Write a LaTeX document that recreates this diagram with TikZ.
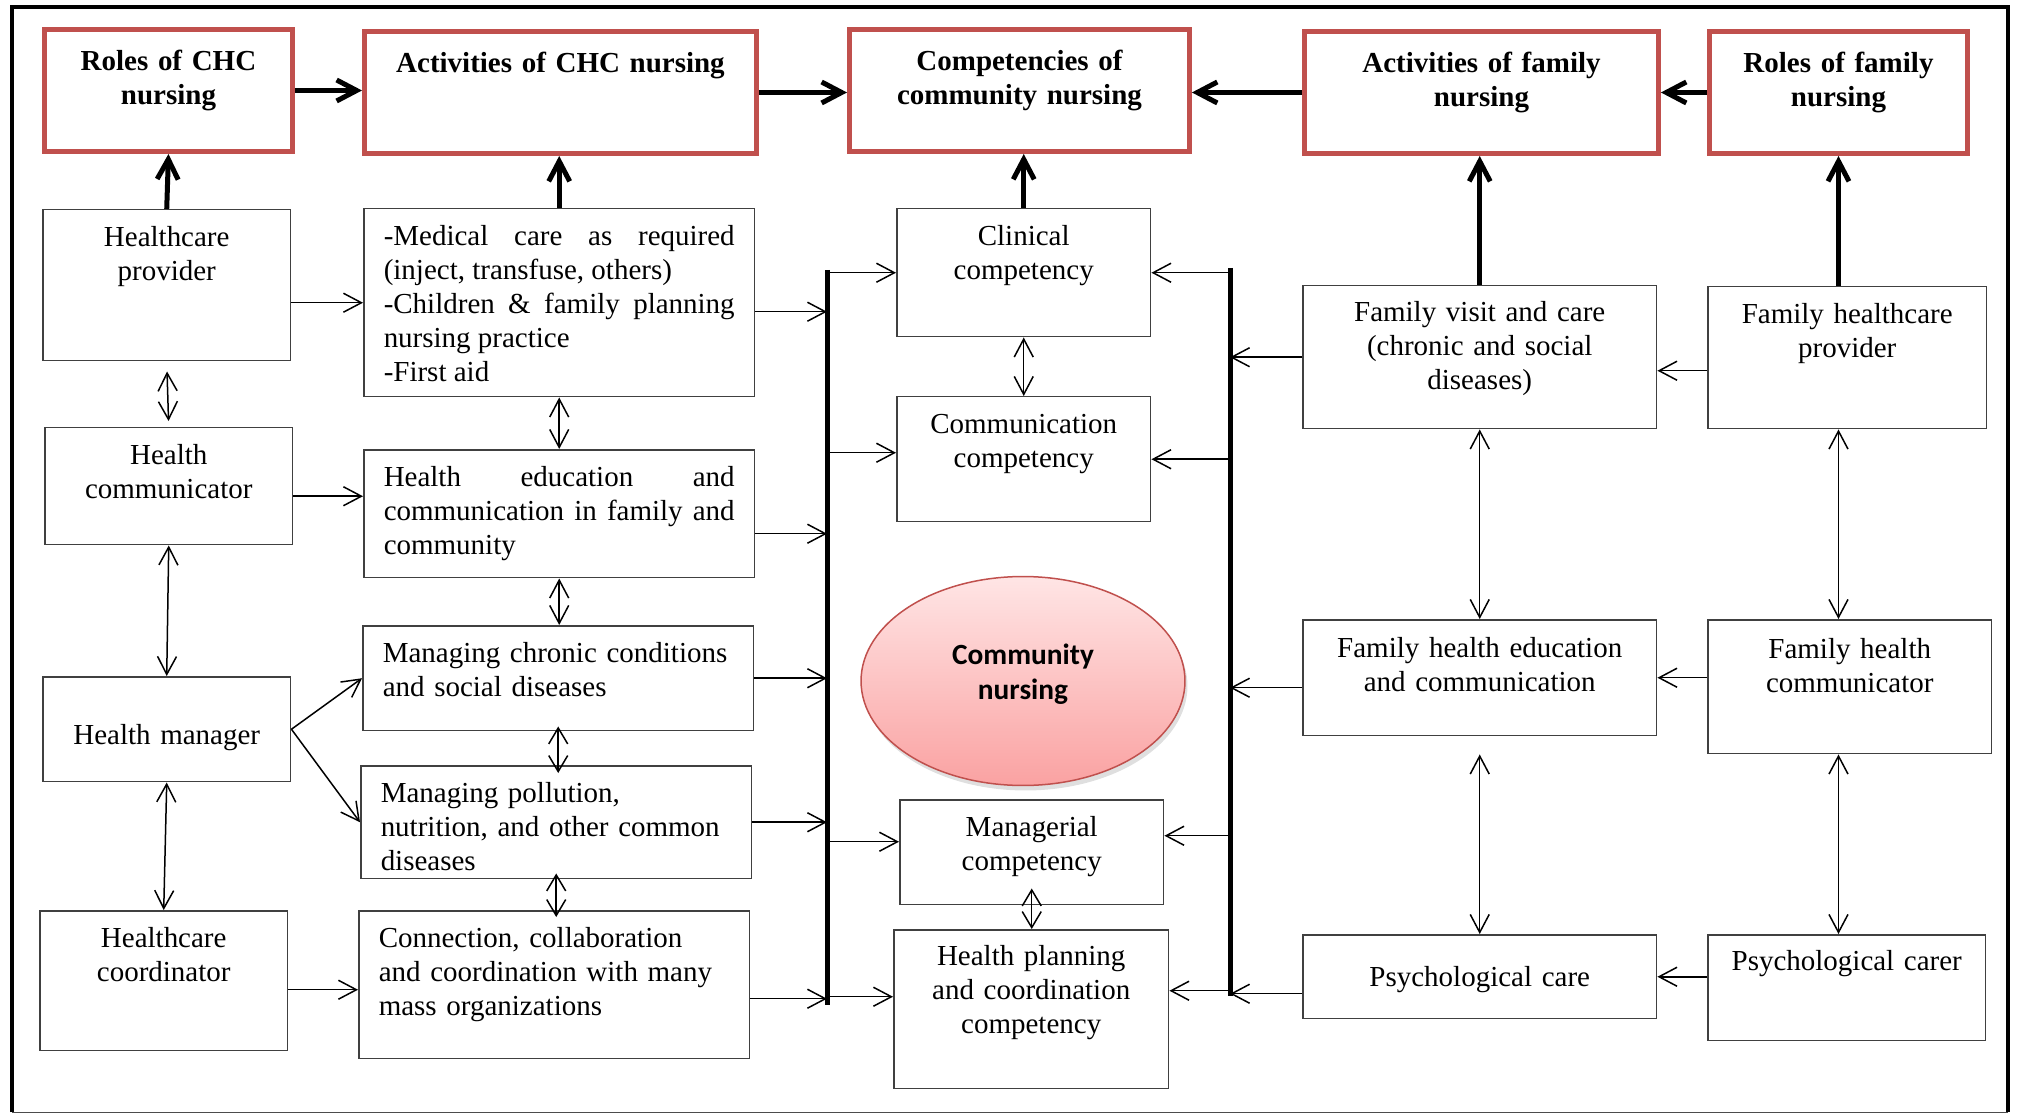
\documentclass[tikz,border=0pt]{standalone}
\usepackage{fontspec}
\setmainfont{Liberation Serif}
\newfontfamily\carlito{Carlito}
\usepackage{xcolor}
\usetikzlibrary{shapes.geometric, arrows.meta, shadows}
\definecolor{rojo}{RGB}{192,80,77}
\definecolor{rosaclaro}{RGB}{255,229,229}
\definecolor{rosa}{RGB}{250,162,162}
\setlength{\parindent}{0pt}

\begin{document}
\fontsize{16.5}{19.3}\selectfont
\begin{tikzpicture}[
    x=0.02cm, y=-0.02cm,
    >={Straight Barb[length=0.36cm, width=0.38cm]},
    caja/.style={rectangle, draw=black!75, line width=0.03cm, anchor=north west,
                 align=center, inner xsep=0.2cm, inner ysep=0pt, text height=0.74cm},
    bloque/.style={caja, align=left, inner xsep=0.4cm, text width=7.02cm},
    titulo/.style={caja, draw=rojo, line width=0.1cm, font=\bfseries,
                   text height=0.82cm, text depth=1.62cm},
    nucleo/.style={ellipse, draw=rojo, line width=0.03cm, top color=rosaclaro,
                   bottom color=rosa, minimum width=6.48cm, minimum height=4.18cm,
                   drop shadow={shadow xshift=0.05cm, shadow yshift=-0.1cm, opacity=0.25},
                   inner sep=0pt, align=center, text depth=0.37cm,
                   font=\carlito\bfseries\fontsize{16.7}{20.3}\selectfont},
    flecha/.style={->, line width=0.03cm},
    doble/.style={<->, line width=0.03cm},
    corta/.style={{Straight Barb[length=0.32cm, width=0.38cm]}-{Straight Barb[length=0.32cm, width=0.38cm]},
                  line width=0.03cm},
    gruesa/.style={-{Straight Barb[length=0.4cm, width=0.42cm]}, line width=0.1cm},
    barra/.style={line width=0.1cm}
]
    \useasboundingbox (0,0) rectangle (2020,1114);
    \draw[line width=0.08cm] (12,1112) -- (12,7) -- (2008,7) -- (2008,1112);
    \draw[black!70, line width=0.02cm] (12,1112) -- (2008,1112);

    \node[titulo, text width=4.56cm] (roles)    at (42,27)   {Roles of CHC\\nursing};
    \node[titulo, text width=7.44cm] (actchc)   at (362,29)  {Activities of CHC nursing};
    \node[titulo, text width=6.40cm] (comp)     at (847,27)  {Competencies of\\community nursing};
    \node[titulo, text width=6.68cm] (actfam)   at (1302,29) {Activities of family\\nursing};
    \node[titulo, text width=4.76cm] (rolesfam) at (1707,29) {Roles of family\\nursing};

    \node[caja, text width=4.56cm, text depth=2.28cm] (provider) at (42,209) {Healthcare\\provider};
    \node[caja, text width=4.56cm, text depth=1.60cm] (communicator) at (44,427) {Health\\communicator};
    \node[caja, text width=4.56cm, text height=1.36cm, text depth=0.74cm] (manager) at (42,676) {Health manager};
    \node[caja, text width=4.56cm, text depth=2.06cm] (coordinator) at (39,910) {Healthcare\\coordinator};

    \node[bloque, align=justify, text depth=3.02cm] (medical) at (363,208)
        {-Medical care as required\linebreak (inject, transfuse, others)\\-Children \& family planning\linebreak nursing practice\\-First aid};
    \node[bloque, align=justify, text depth=1.82cm] (educ) at (363,449)
        {Health education and\linebreak communication in family and\linebreak community};
    \node[bloque, text depth=1.36cm] (chronic) at (362,625) {Managing chronic conditions\\and social diseases};
    \node[bloque, text depth=1.52cm] (pollution) at (360,765) {Managing pollution,\\nutrition, and other common\\diseases};
    \node[bloque, text depth=2.22cm] (connection) at (358,910) {Connection, collaboration\\and coordination with many\\mass organizations};

    \node[caja, text width=4.68cm, text depth=1.82cm] (clinical) at (896,208) {Clinical\\competency};
    \node[caja, text width=4.68cm, text depth=1.76cm] (commcomp) at (896,396) {Communication\\competency};
    \node[nucleo] (community) at (1023,681) {Community\\nursing};
    \node[caja, text width=4.88cm, text depth=1.36cm] (managerial) at (899,799) {Managerial\\competency};
    \node[caja, text width=5.10cm, text height=0.72cm, text depth=2.46cm] (planning) at (893,929) {Health planning\\and coordination\\competency};

    \node[caja, text width=6.68cm, text height=0.72cm, text depth=2.14cm] (visit) at (1302,285) {Family visit and care\\(chronic and social\\diseases)};
    \node[caja, text width=6.68cm, text height=0.76cm, text depth=1.56cm] (famedu) at (1302,619) {Family health education\\and communication};
    \node[caja, text width=6.68cm, text height=1.04cm, text depth=0.64cm] (psych) at (1302,934) {Psychological care};

    \node[caja, text width=5.18cm, text depth=2.10cm] (famprov) at (1707,286) {Family healthcare\\provider};
    \node[caja, text width=5.28cm, text height=0.78cm, text depth=1.90cm] (famcomm) at (1707,619) {Family health\\communicator};
    \node[caja, text width=5.16cm, text height=0.72cm, text depth=1.40cm] (carer) at (1707,934) {Psychological carer};

    \coordinate (lbtop) at (827,270);
    \coordinate (lbbot) at (827,1005);
    \coordinate (rbtop) at (1230,268);
    \coordinate (rbbot) at (1230,996);
    \draw[barra] (lbtop) -- (lbbot);
    \draw[barra] (rbtop) -- (rbbot);

    \draw[gruesa] (roles.east) -- (roles.east -| actchc.west);
    \draw[gruesa] (actchc.east) -- (actchc.east -| comp.west);
    \draw[gruesa] (actfam.west) -- (actfam.west -| comp.east);
    \draw[gruesa] (rolesfam.west) -- (rolesfam.west -| actfam.east);
    \draw[gruesa] (provider.north) -- (roles.south);
    \draw[gruesa] (medical.north) -- (medical.north |- actchc.south);
    \draw[gruesa] (clinical.north) -- (clinical.north |- comp.south);
    \draw[gruesa] (visit.north) -- (visit.north |- actfam.south);
    \draw[gruesa] (famprov.north -| rolesfam.south) -- (rolesfam.south);

    \draw[flecha] (provider.east |- medical.west) -- (medical.west);
    \draw[flecha] ([yshift=-0.2cm]communicator.east) -- ([yshift=-0.2cm]communicator.east -| educ.west);
    \draw[flecha] (manager.east) -- (chronic.west);
    \draw[flecha] (manager.east) -- (pollution.west);
    \draw[flecha] ([yshift=-0.18cm]coordinator.east) -- ([yshift=-0.18cm]coordinator.east -| connection.west);

    \draw[doble, shorten <=0.2cm, shorten >=0.12cm] (provider.south) -- (communicator.north);
    \draw[doble] (communicator.south) -- (manager.north);
    \draw[doble] (manager.south) -- (coordinator.north);
    \draw[doble] (medical.south) -- (educ.north);
    \draw[doble] (educ.south) -- (educ.south |- chronic.north);
    \draw[corta, shorten <=-0.1cm, shorten >=-0.16cm] (chronic.south) -- (chronic.south |- pollution.north);
    \draw[corta, shorten <=-0.12cm, shorten >=-0.14cm] (pollution.south) -- (pollution.south |- connection.north);

    \draw[flecha] ([yshift=-0.18cm]medical.east) -- ([yshift=-0.18cm]medical.east -| lbtop);
    \draw[flecha] ([yshift=-0.4cm]educ.east) -- ([yshift=-0.4cm]educ.east -| lbtop);
    \draw[flecha] (chronic.east) -- (chronic.east -| lbtop);
    \draw[flecha] (pollution.east) -- (pollution.east -| lbtop);
    \draw[flecha] ([yshift=-0.28cm]connection.east) -- ([yshift=-0.28cm]connection.east -| lbtop);

    \draw[flecha] (clinical.west -| lbtop) -- (clinical.west);
    \draw[flecha] ([yshift=0.13cm]commcomp.west -| lbtop) -- ([yshift=0.13cm]commcomp.west);
    \draw[flecha] ([yshift=0.21cm]managerial.west -| lbtop) -- ([yshift=0.21cm]managerial.west);
    \draw[flecha] ([yshift=0.25cm]planning.west -| lbtop) -- ([yshift=0.25cm]planning.west);
    \draw[doble] (clinical.south) -- (commcomp.north);
    \draw[corta, shorten <=-0.34cm] (managerial.south) -- (managerial.south |- planning.north);

    \draw[flecha] (clinical.east -| rbtop) -- (clinical.east);
    \draw[flecha] (commcomp.east -| rbtop) -- (commcomp.east);
    \draw[flecha] ([yshift=0.33cm]managerial.east -| rbtop) -- ([yshift=0.33cm]managerial.east);
    \draw[flecha] ([yshift=0.37cm]planning.east -| rbtop) -- ([yshift=0.37cm]planning.east);

    \draw[flecha] (visit.west) -- (visit.west -| rbtop);
    \draw[flecha] ([yshift=-0.2cm]famedu.west) -- ([yshift=-0.2cm]famedu.west -| rbtop);
    \draw[flecha] ([yshift=-0.34cm]psych.west) -- ([yshift=-0.34cm]psych.west -| rbtop);
    \draw[doble] (visit.south) -- (famedu.north);
    \draw[doble, shorten <=0.36cm] (famedu.south) -- (psych.north);

    \draw[flecha] ([yshift=-0.26cm]famprov.west) -- ([yshift=-0.26cm]famprov.west -| visit.east);
    \draw[flecha] (famcomm.west |- famedu.east) -- (famedu.east);
    \draw[flecha] (carer.west |- psych.east) -- (psych.east);
    \draw[doble] (famprov.south -| rolesfam.south) -- (famcomm.north -| rolesfam.south);
    \draw[doble] (famcomm.south -| rolesfam.south) -- (carer.north -| rolesfam.south);
\end{tikzpicture}
\end{document}
